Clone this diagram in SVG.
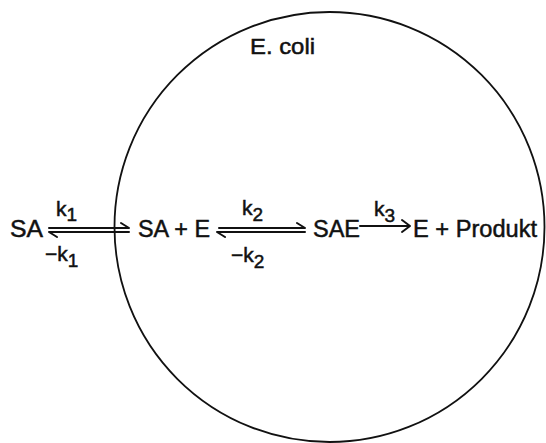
<svg xmlns="http://www.w3.org/2000/svg" width="546" height="443" viewBox="0 0 546 443">
<style>
text{font-family:"Liberation Sans",Arial,sans-serif;fill:#111;stroke:#111;stroke-width:0.5;}
.big{font-size:23.5px;}
.lab{font-size:21px;}
.sub{font-size:19px;}
.ln{stroke:#111;stroke-width:2;fill:none;stroke-linecap:round;stroke-linejoin:round;}
</style>
<rect width="546" height="443" fill="#fff"/>
<g id="ecoli">
<circle cx="329.5" cy="227" r="215" fill="none" stroke="#111" stroke-width="1.8"/>
<text x="250" y="54" style="font-size:22px" textLength="65" lengthAdjust="spacingAndGlyphs">E. coli</text>
</g>
<g id="SA-out"><text class="big" x="10" y="237" textLength="33" lengthAdjust="spacingAndGlyphs">SA</text></g>
<g id="SA-E"><text class="big" x="138" y="237" textLength="72" lengthAdjust="spacingAndGlyphs">SA + E</text></g>
<g id="SAE"><text class="big" x="313" y="237" textLength="47" lengthAdjust="spacingAndGlyphs">SAE</text></g>
<g id="E-Produkt"><text class="big" x="413" y="237" textLength="124" lengthAdjust="spacingAndGlyphs">E + Produkt</text></g>
<g id="connectors">
<path class="ln" d="M49,228 H129 L121,223"/>
<path class="ln" d="M129,232 H49 L57,237"/>
<path class="ln" d="M219,228 H305 L297,223"/>
<path class="ln" d="M305,232 H217 L225,237"/>
<path class="ln" d="M360,226 H409"/>
<path class="ln" d="M402,220 L410,226 L402,232"/>
<text class="lab" x="56" y="216">k<tspan class="sub" dy="5">1</tspan></text>
<text class="lab" x="45" y="261">−k<tspan class="sub" dy="6">1</tspan></text>
<text class="lab" x="242" y="215">k<tspan class="sub" dy="6">2</tspan></text>
<text class="lab" x="231" y="262">−k<tspan class="sub" dy="6">2</tspan></text>
<text class="lab" x="374" y="216">k<tspan class="sub" dy="6">3</tspan></text>
</g>
</svg>
